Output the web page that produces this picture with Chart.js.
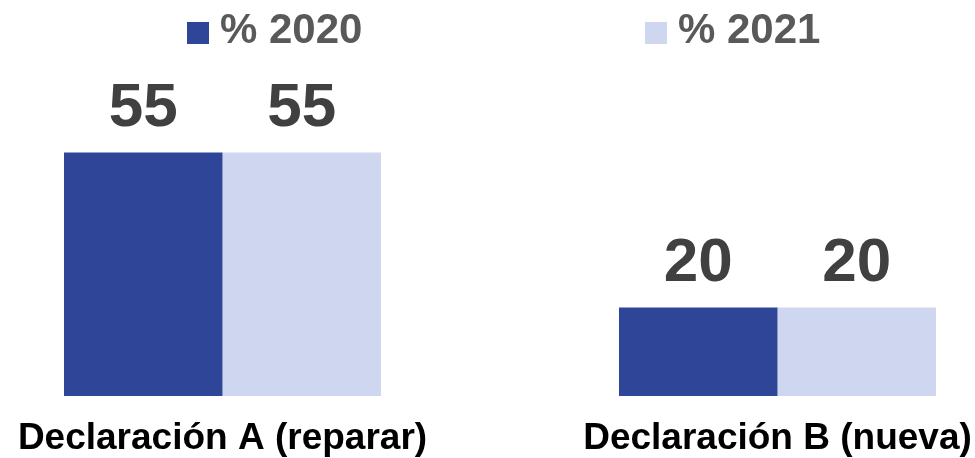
<!DOCTYPE html>
<html>
<head>
<meta charset="utf-8">
<script src="https://cdn.jsdelivr.net/npm/chart.js@4/dist/chart.umd.min.js"></script>
<style>
  html, body { margin: 0; padding: 0; background: #ffffff; }
  #wrap { width: 975px; height: 458px; position: relative; }
</style>
</head>
<body>
<div id="wrap"><canvas id="myChart"></canvas></div>
<script>
  const categories = ['Declaración A (reparar)', 'Declaración B (nueva)'];
  const seriesNames = ['% 2020', '% 2021'];
  const values2020 = [55, 20];
  const values2021 = [55, 20];
  const seriesColors = ['#2E4598', '#CFD7F0'];

  const fontFamily = '"Liberation Sans", Arial, sans-serif';

  // value labels above each bar
  const valueLabels = {
    id: 'valueLabels',
    afterDatasetsDraw(chart) {
      const ctx = chart.ctx;
      ctx.save();
      ctx.font = 'bold 62px ' + fontFamily;
      ctx.fillStyle = '#404040';
      ctx.textAlign = 'center';
      ctx.textBaseline = 'alphabetic';
      chart.data.datasets.forEach(function (ds, i) {
        chart.getDatasetMeta(i).data.forEach(function (bar, j) {
          ctx.fillText(String(ds.data[j]), bar.x, bar.y - 26);
        });
      });
      ctx.restore();
    }
  };

  // legend spread across the top like the original
  const topLegend = {
    id: 'topLegend',
    afterDraw(chart) {
      const ctx = chart.ctx;
      const spots = [187, 645];
      ctx.save();
      ctx.font = 'bold 42px ' + fontFamily;
      ctx.textBaseline = 'alphabetic';
      ctx.textAlign = 'left';
      chart.data.datasets.forEach(function (ds, i) {
        ctx.fillStyle = ds.backgroundColor;
        ctx.fillRect(spots[i], 22, 22, 22);
        ctx.fillStyle = '#595959';
        ctx.fillText(ds.label, spots[i] + 33, 43);
      });
      ctx.restore();
    }
  };

  const ctx = document.getElementById('myChart').getContext('2d');
  new Chart(ctx, {
    type: 'bar',
    data: {
      labels: categories,
      datasets: [
        { label: seriesNames[0], data: values2020, backgroundColor: seriesColors[0], clip: false },
        { label: seriesNames[1], data: values2021, backgroundColor: seriesColors[1], clip: false }
      ]
    },
    options: {
      responsive: true,
      maintainAspectRatio: false,
      animation: false,
      categoryPercentage: 0.5712,
      barPercentage: 1,
      layout: { padding: { left: 222.5, right: 197.5, top: 86, bottom: 0 } },
      plugins: {
        legend: { display: false },
        tooltip: { enabled: false }
      },
      scales: {
        x: {
          offset: false,
          grid: { display: false, drawTicks: false },
          border: { display: false },
          afterFit(scale) {
            scale.height = 62;
            scale.paddingLeft = 0;
            scale.paddingRight = 0;
          },
          ticks: {
            color: '#000000',
            padding: 24,
            maxRotation: 0,
            autoSkip: false,
            font: { family: fontFamily, size: 37, weight: 'bold', lineHeight: 1 }
          }
        },
        y: {
          display: false,
          min: 0,
          max: 70
        }
      }
    },
    plugins: [valueLabels, topLegend]
  });
</script>
</body>
</html>
